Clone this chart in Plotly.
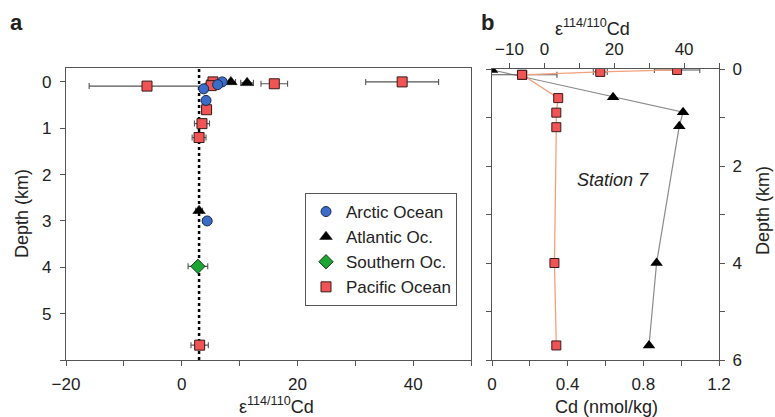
import plotly.graph_objects as go

W, H = 775, 417
FONT = "Liberation Sans"

# ---------------- Panel a data (epsilon 114/110 Cd vs depth) ----------------
arctic_eps = [7.0, 6.2, 3.8, 4.2, 4.4]
arctic_depth = [0.0, 0.06, 0.15, 0.4, 3.0]
arctic_err = [0.6, 0.6, 0.6, 0.6, 0.7]

atlantic_eps = [8.5, 11.3, 3.0]
atlantic_depth = [0.0, 0.02, 2.78]
atlantic_err = [0.8, 1.1, 0.6]

southern_eps = [2.8]
southern_depth = [3.98]
southern_err = [1.7]

pacific_eps = [-6.0, 38.1, 16.0, 5.4, 5.1, 4.3, 3.5, 3.0, 3.1]
pacific_depth = [0.09, 0.0, 0.04, 0.0, 0.08, 0.6, 0.9, 1.2, 5.68]
pacific_err = [10.0, 6.3, 2.3, 1.0, 1.0, 0.8, 1.3, 1.2, 1.5]

mean_eps = 3.0

# ---------------- Panel b data (Station 7) ----------------
st7_pac_eps = [38.0, 16.0, -6.4]
st7_pac_eps_depth = [0.02, 0.06, 0.12]
st7_pac_eps_err = [6.5, 2.0, 10.0]

st7_pac_cd = [0.16, 0.35, 0.34, 0.34, 0.33, 0.34]
st7_pac_cd_depth = [0.12, 0.6, 0.9, 1.2, 4.0, 5.7]

st7_atl_cd = [0.0, 0.64, 1.01, 0.99, 0.87, 0.83]
st7_atl_cd_depth = [0.02, 0.58, 0.89, 1.18, 4.0, 5.7]

# tick labels (major labelled ticks; minor ticks fill in between)
a_xticks = [-20, 0, 20, 40]
a_yticks = [0, 1, 2, 3, 4, 5]
b_cdticks = [0, 0.4, 0.8, 1.2]
b_cdticktext = ["0", "0.4", "0.8", "1.2"]
b_epsticks = [-10, 0, 20, 40]
b_yticks = [0, 2, 4, 6]

RED = "#f05454"
BLUE = "#3b6cc8"
GREEN = "#1fa534"
ERRC = "#555555"
AXC = "#555555"


def X(px):
    return px / W


def Y(py):
    return 1 - py / H


def ebar(vals, w=3):
    return dict(type="data", array=vals, visible=True, color=ERRC, thickness=1.1, width=w)


def minor(dtick, tick0):
    return dict(dtick=dtick, tick0=tick0, ticks="outside", ticklen=5, tickcolor=AXC,
                tickwidth=1.2, showgrid=False)


fig = go.Figure()

# Panel a traces
fig.add_trace(go.Scatter(
    x=pacific_eps, y=pacific_depth, mode="markers", name="Pacific Ocean",
    error_x=ebar(pacific_err), legendrank=4,
    marker=dict(symbol="square", size=10, color=RED, line=dict(color="#3a1a1a", width=1)),
    xaxis="x", yaxis="y"))
fig.add_trace(go.Scatter(
    x=southern_eps, y=southern_depth, mode="markers", name="Southern Oc.",
    error_x=ebar(southern_err), legendrank=3,
    marker=dict(symbol="diamond", size=11, color=GREEN, line=dict(color="#133a18", width=1)),
    xaxis="x", yaxis="y"))
fig.add_trace(go.Scatter(
    x=atlantic_eps, y=atlantic_depth, mode="markers", name="Atlantic Oc.",
    error_x=ebar(atlantic_err), legendrank=2,
    marker=dict(symbol="triangle-up", size=11, color="black", line=dict(color="black", width=0.5)),
    xaxis="x", yaxis="y"))
fig.add_trace(go.Scatter(
    x=arctic_eps, y=arctic_depth, mode="markers", name="Arctic Ocean",
    error_x=ebar(arctic_err), legendrank=1,
    marker=dict(symbol="circle", size=10, color=BLUE, line=dict(color="#1a2a4a", width=1)),
    xaxis="x", yaxis="y"))

# Panel b traces
fig.add_trace(go.Scatter(
    x=st7_atl_cd, y=st7_atl_cd_depth, mode="lines+markers", showlegend=False,
    line=dict(color="#8a8a8a", width=1.2),
    marker=dict(symbol="triangle-up", size=11, color="black"),
    xaxis="x2", yaxis="y2"))
fig.add_trace(go.Scatter(
    x=st7_pac_cd, y=st7_pac_cd_depth, mode="lines+markers", showlegend=False,
    line=dict(color="#f4a07c", width=1.3),
    error_x=dict(type="data", array=[0.015] * len(st7_pac_cd), visible=True,
                 color=ERRC, thickness=1, width=3),
    marker=dict(symbol="square", size=9, color=RED, line=dict(color="#3a1a1a", width=1)),
    xaxis="x2", yaxis="y2"))
fig.add_trace(go.Scatter(
    x=st7_pac_eps, y=st7_pac_eps_depth, mode="lines+markers", showlegend=False,
    line=dict(color="#f4a07c", width=1.3),
    error_x=ebar(st7_pac_eps_err),
    marker=dict(symbol="square", size=9, color=RED, line=dict(color="#3a1a1a", width=1)),
    xaxis="x3", yaxis="y3", cliponaxis=True))

# dotted mean line in panel a
fig.add_shape(type="line", x0=mean_eps, x1=mean_eps, xref="x", y0=0, y1=1, yref="y domain",
              line=dict(color="black", width=2.5, dash="3px,3px"), layer="below")

axis_common = dict(showline=True, linecolor=AXC, linewidth=1.3, ticks="outside",
                   tickcolor=AXC, ticklen=5, tickwidth=1.2, showgrid=False, zeroline=False,
                   automargin=False, tickmode="array",
                   tickfont=dict(family=FONT, size=17, color="#222"))

fig.update_layout(
    width=W, height=H, paper_bgcolor="white", plot_bgcolor="white",
    margin=dict(l=0, r=0, t=0, b=0),
    font=dict(family=FONT, size=17, color="#222"),
    xaxis=dict(domain=[X(66), X(471)], anchor="y", range=[-20, 50],
               tickvals=a_xticks, minor=minor(10, -20), mirror=True, ticklabelstandoff=3,
               **axis_common),
    yaxis=dict(domain=[Y(360), Y(68)], anchor="x", range=[6, -0.3],
               tickvals=a_yticks, minor=minor(1, 0), mirror=True, ticklabelstandoff=5,
               **axis_common),
    xaxis2=dict(domain=[X(492), X(719)], anchor="y2", range=[0, 1.2],
                tickvals=b_cdticks, ticktext=b_cdticktext, minor=minor(0.2, 0),
                ticklabelstandoff=3, **axis_common),
    yaxis2=dict(domain=[Y(360), Y(69)], anchor="x2", range=[6, 0],
                tickvals=b_yticks, minor=minor(1, 0), showticklabels=False, **axis_common),
    xaxis3=dict(overlaying="x2", side="top", anchor="y2", range=[-15, 50],
                tickvals=b_epsticks, minor=minor(10, -10), ticklabelstandoff=1, **axis_common),
    yaxis3=dict(overlaying="y2", side="right", anchor="x2", range=[6, 0],
                tickvals=b_yticks, minor=minor(1, 0), ticklabelstandoff=4, **axis_common),
    legend=dict(x=X(305), y=Y(193), xanchor="left", yanchor="top",
                bordercolor="#555", borderwidth=1, bgcolor="white",
                font=dict(family=FONT, size=17, color="#222"),
                tracegroupgap=0, itemwidth=30),
    showlegend=True,
)

ann = [
    dict(text="<b>a</b>", x=X(16), y=Y(22), size=22, angle=0),
    dict(text="<b>b</b>", x=X(487), y=Y(22), size=22, angle=0),
    dict(text="ε<sup>114/110</sup>Cd", x=X(276), y=Y(405), size=18, angle=0),
    dict(text="Depth (km)", x=X(22), y=Y(214), size=18, angle=-90),
    dict(text="ε<sup>114/110</sup>Cd", x=X(592), y=Y(27), size=18, angle=0),
    dict(text="Cd (nmol/kg)", x=X(606), y=Y(407), size=18, angle=0),
    dict(text="Depth (km)", x=X(763), y=Y(211), size=18, angle=-90),
    dict(text="<i>Station 7</i>", x=X(613), y=Y(180), size=18, angle=0),
]
for a in ann:
    fig.add_annotation(text=a["text"], x=a["x"], y=a["y"], xref="paper", yref="paper",
                       xanchor="center", yanchor="middle", showarrow=False,
                       textangle=a["angle"],
                       font=dict(family=FONT, size=a["size"], color="#222"))

fig.write_html("out.html", config={"displayModeBar": False},
               post_script="document.body.style.margin='0px';document.body.style.overflow='hidden';")
